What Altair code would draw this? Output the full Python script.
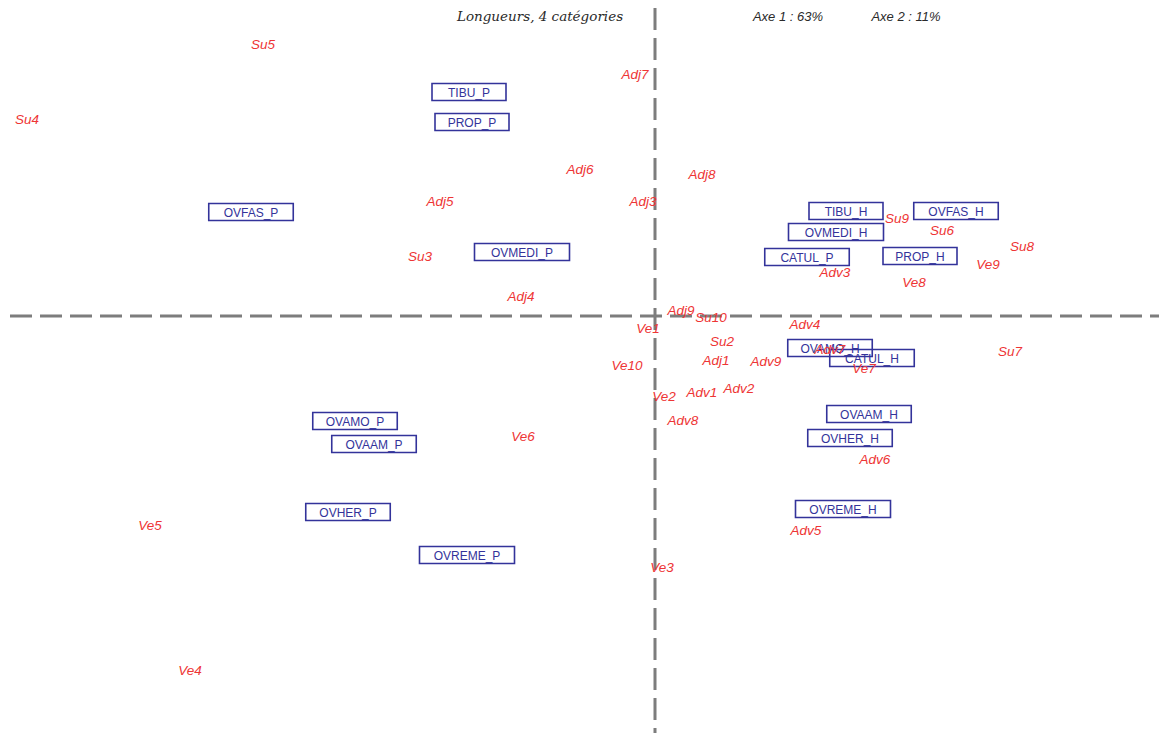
import altair as alt
import pandas as pd

# Modalités (en bleu, encadrées) : coordonnées sur les axes factoriels 1 et 2
mod_labels = ["TIBU_P", "PROP_P", "OVFAS_P", "OVMEDI_P", "TIBU_H", "OVFAS_H",
              "OVMEDI_H", "CATUL_P", "PROP_H", "OVAMO_H", "CATUL_H", "OVAAM_H",
              "OVHER_H", "OVREME_H", "OVAMO_P", "OVAAM_P", "OVHER_P", "OVREME_P"]
mod_dim1 = [-1.86, -1.83, -4.04, -1.33, 1.91, 3.01,
            1.81, 1.52, 2.65, 1.75, 2.17, 2.14,
            1.95, 1.88, -3.00, -2.81, -3.07, -1.88]
mod_dim2 = [2.24, 1.94, 1.04, 0.64, 1.05, 1.05,
            0.84, 0.59, 0.60, -0.32, -0.42, -0.98,
            -1.22, -1.93, -1.05, -1.28, -1.96, -2.39]

# Individus (en rouge)
ind_labels = ["Su5", "Su4", "Adj7", "Adj6", "Adj8", "Adj5", "Adj3", "Su9", "Su6",
              "Su8", "Ve9", "Adv3", "Ve8", "Su3", "Adj4", "Adj9", "Su10", "Ve1",
              "Adv4", "Su2", "Adj1", "Adv9", "Ve10", "Adv7", "Ve7", "Su7", "Ve2",
              "Adv1", "Adv2", "Adv8", "Ve6", "Adv6", "Adv5", "Ve5", "Ve3", "Ve4"]
ind_dim1 = [-3.92, -6.28, -0.20, -0.75, 0.47, -2.15, -0.12, 2.42, 2.87,
            3.67, 3.33, 1.80, 2.59, -2.35, -1.34, 0.26, 0.56, -0.07,
            1.50, 0.67, 0.61, 1.11, -0.28, 1.75, 2.09, 3.55, 0.09,
            0.47, 0.84, 0.28, -1.32, 2.20, 1.51, -5.05, 0.07, -4.65]
ind_dim2 = [2.71, 1.96, 2.41, 1.46, 1.41, 1.14, 1.14, 0.97, 0.85,
            0.69, 0.51, 0.43, 0.33, 0.59, 0.19, 0.05, -0.02, -0.13,
            -0.09, -0.26, -0.45, -0.46, -0.50, -0.34, -0.53, -0.36, -0.81,
            -0.77, -0.73, -1.05, -1.21, -1.44, -2.15, -2.10, -2.52, -3.55]

title_left = "Longueurs, 4 catégories"
inertia_1 = "Axe 1 : 63%"
inertia_2 = "Axe 2 : 11%"

W, H = 1159, 733
RED = "#ee3535"
BLUE = "#33339a"
GREY = "#7d7d7d"
INK = "#2a2a2a"

mods = pd.DataFrame({"label": mod_labels, "d1": mod_dim1, "d2": mod_dim2})
inds = pd.DataFrame({"label": ind_labels, "d1": ind_dim1, "d2": ind_dim2})
origin = pd.DataFrame({"d1": [0.0], "d2": [0.0]})

xs = alt.Scale(domain=[-6.55, 5.04], nice=False, zero=False)
ys = alt.Scale(domain=[-4.17, 3.16], nice=False, zero=False)

# Axes factoriels en tirets
vline = alt.Chart(origin).mark_rule(
    stroke=GREY, strokeWidth=3, strokeDash=[22, 8]
).encode(
    x=alt.X("d1:Q", scale=xs, axis=None),
    y=alt.value(8), y2=alt.value(H),
)
hline = alt.Chart(origin).mark_rule(
    stroke=GREY, strokeWidth=3, strokeDash=[22, 8]
).encode(
    y=alt.Y("d2:Q", scale=ys, axis=None),
    x=alt.value(10), x2=alt.value(W),
)

# Cadres autour des modalités, largeur selon la longueur de l'étiquette
boxes = alt.Chart(mods).transform_calculate(
    hw="(0.105 * length(datum.label) + 0.11) / 2",
    x0="datum.d1 - datum.hw", x1="datum.d1 + datum.hw",
    y0="datum.d2 - 0.085", y1="datum.d2 + 0.085",
).mark_rect(fillOpacity=0, stroke=BLUE, strokeWidth=1.6).encode(
    x=alt.X("x0:Q", scale=xs, axis=None), x2="x1:Q",
    y=alt.Y("y0:Q", scale=ys, axis=None), y2="y1:Q",
)

mod_text = alt.Chart(mods).mark_text(
    font="Liberation Sans", fontSize=12, color=BLUE, baseline="middle", dy=1
).encode(
    x=alt.X("d1:Q", scale=xs, axis=None),
    y=alt.Y("d2:Q", scale=ys, axis=None),
    text="label:N",
)

ind_text = alt.Chart(inds).mark_text(
    font="Liberation Sans", fontSize=13.5, fontStyle="italic", color=RED,
    baseline="middle"
).encode(
    x=alt.X("d1:Q", scale=xs, axis=None),
    y=alt.Y("d2:Q", scale=ys, axis=None),
    text="label:N",
)

head_left = alt.Chart(origin).mark_text(
    font="DejaVu Serif", fontSize=13.5, fontStyle="italic", color=INK,
    baseline="middle", align="center"
).encode(x=alt.value(540), y=alt.value(17), text=alt.value(title_left))

head_ax1 = alt.Chart(origin).mark_text(
    font="Liberation Sans", fontSize=13, fontStyle="italic", color=INK,
    baseline="middle", align="center"
).encode(x=alt.value(788), y=alt.value(17), text=alt.value(inertia_1))

head_ax2 = alt.Chart(origin).mark_text(
    font="Liberation Sans", fontSize=13, fontStyle="italic", color=INK,
    baseline="middle", align="center"
).encode(x=alt.value(906), y=alt.value(17), text=alt.value(inertia_2))

chart = alt.layer(
    vline, hline, boxes, mod_text, ind_text, head_left, head_ax1, head_ax2
).properties(
    width=W, height=H, padding=0, autosize="none", background="white"
).configure_view(stroke=None)

chart.save("out.html", embed_options={"renderer": "svg", "actions": False})
